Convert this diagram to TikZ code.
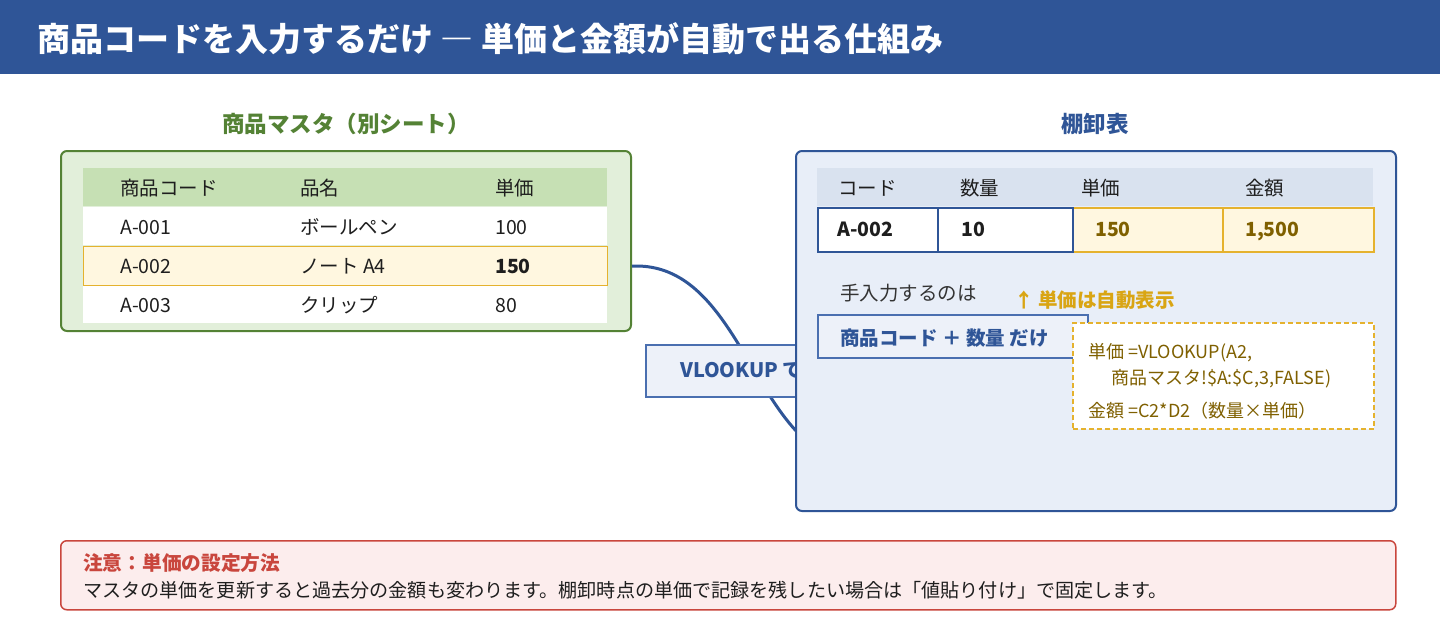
\documentclass[tikz,border=0pt]{standalone}
\usepackage{fontspec}
\setmainfont{Noto Sans CJK JP}
\usetikzlibrary{calc}
\definecolor{hdrblue}{HTML}{2F5597}
\definecolor{midblue}{HTML}{4A6FB0}
\definecolor{rpanelbg}{HTML}{E8EEF8}
\definecolor{rheadbg}{HTML}{D9E2EF}
\definecolor{lblue2}{HTML}{EDF1F9}
\definecolor{mgreen}{HTML}{548235}
\definecolor{lgreenbg}{HTML}{E2EFDA}
\definecolor{hdrgreen}{HTML}{C6E0B4}
\definecolor{gold}{HTML}{E5B22E}
\definecolor{lyellow}{HTML}{FFF7E0}
\definecolor{dgold}{HTML}{7F6000}
\definecolor{agold}{HTML}{D9A514}
\definecolor{txtdark}{HTML}{1E1E1E}
\definecolor{txtgray}{HTML}{333333}
\definecolor{notebg}{HTML}{FCEDED}
\definecolor{notered}{HTML}{C9463D}
\newcommand\myfs[1]{\fontsize{#1}{#1}\selectfont}
\begin{document}
\begin{tikzpicture}[x=1pt,y=-1pt,
  box/.style={rectangle, inner sep=0pt, anchor=north west},
  lbl/.style={anchor=west, inner sep=0pt, text height=#1, text depth=0pt},
  txt/.style={lbl=14.4pt, font=\myfs{19.5}, text=txtdark},
  btxt/.style={lbl=14.4pt, font=\bfseries\myfs{19.5}, text=txtdark},
  ftxt/.style={lbl=13.3pt, font=\myfs{18}, text=dgold},
]
\useasboundingbox (0,0) rectangle (1440,630);
\fill[white] (0,0) rectangle (1440,630);
% header
\fill[hdrblue] (0,0) rectangle (1440,74);
\node[lbl=24.4pt, text=white, font=\bfseries\myfs{33}] (title) at (37,39) {商品コードを入力するだけ ― 単価と金額が自動で出る仕組み};

% left side
\node[inner sep=0pt, font=\bfseries\myfs{22.5}, text=mgreen] (ltitle) at (346,124) {商品マスタ（別シート）};
\node[box, draw=mgreen, fill=lgreenbg, line width=2pt, rounded corners=6pt, minimum width=570pt, minimum height=180pt] (lpanel) at (60,150) {};
\node[box, fill=hdrgreen, minimum width=524pt, minimum height=38pt] (lhead) at (83,168) {};
\node[box, fill=white, minimum width=524pt, minimum height=38pt] (m1) at (83,207) {};
\node[box, draw=gold, fill=lyellow, line width=1.2pt, minimum width=524pt, minimum height=39pt] (m2) at (83,246) {};
\node[box, fill=white, minimum width=524pt, minimum height=37pt] (m3) at (83,286) {};

\node[txt] (lh1) at (120,188) {商品コード};
\node[txt] (lh2) at (300,188) {品名};
\node[txt] (lh3) at (495,188) {単価};
\node[txt] (l11) at (120,227) {A-001};
\node[txt] (l12) at (300,227) {ボールペン};
\node[txt] (l13) at (495,227) {100};
\node[txt] (l21) at (120,266) {A-002};
\node[txt] (l22) at (300,266) {ノート A4};
\node[btxt] (l23) at (495,266) {150};
\node[txt] (l31) at (120,305) {A-003};
\node[txt] (l32) at (300,305) {クリップ};
\node[txt] (l33) at (495,305) {80};

% connector
\coordinate (cend) at (800,435);
\draw[hdrblue, line width=3pt] (lpanel.east |- m2.east) .. controls (720,262) and (745,380) .. (cend);
\node[box, draw=midblue, fill=lblue2, line width=1.5pt, minimum width=160pt, minimum height=52pt] (vl) at (645,344) {};
\node[lbl=14.8pt, text=hdrblue, font=\bfseries\myfs{20}] (vltext) at (680,370) {VLOOKUP で};

% right side
\node[inner sep=0pt, font=\bfseries\myfs{22.5}, text=hdrblue] (rtitle) at (1095,124) {棚卸表};
\node[box, draw=hdrblue, fill=rpanelbg, line width=2pt, rounded corners=6pt, minimum width=600pt, minimum height=360pt] (rpanel) at (795,150) {};
\node[box, fill=rheadbg, minimum width=556pt, minimum height=38pt] (rhead) at (817,168) {};
\node[box, draw=gold, fill=lyellow, line width=1.5pt, minimum width=150pt, minimum height=44pt] (c3) at (1072,207) {};
\node[box, draw=gold, fill=lyellow, line width=1.5pt, minimum width=151pt, minimum height=44pt] (c4) at (1222,207) {};
\node[box, draw=hdrblue, fill=white, line width=2pt, minimum width=120pt, minimum height=44pt] (c1) at (817,207) {};
\node[box, draw=hdrblue, fill=white, line width=2pt, minimum width=135pt, minimum height=44pt] (c2) at (937,207) {};

\node[txt] (rh1) at (838,188) {コード};
\node[txt] (rh2) at (960,188) {数量};
\node[txt] (rh3) at (1081,188) {単価};
\node[txt] (rh4) at (1245,188) {金額};
\node[btxt] (r1) at (837,229) {A-002};
\node[btxt] (r2) at (961,229) {10};
\node[btxt, text=dgold] (r3) at (1095,229) {150};
\node[btxt, text=dgold] (r4) at (1245,229) {1,500};

\node[txt, text=txtgray] (manual) at (840,293) {手入力するのは};
\node[btxt, text=agold] (auto) at (1014,300) {↑ 単価は自動表示};
\node[box, draw=midblue, fill=lblue2, line width=1.5pt, minimum width=270pt, minimum height=43pt] (inbox) at (817,314) {};
\node[btxt, text=hdrblue] (intext) at (840,338) {商品コード ＋ 数量 だけ};
\node[box, draw=gold, fill=white, line width=1.5pt, dash pattern=on 5pt off 3pt, minimum width=301pt, minimum height=106pt] (fbox) at (1072,322) {};
\node[ftxt] (f1) at (1088,352) {単価 =VLOOKUP(A2,};
\node[ftxt] (f2) at (1111,378) {商品マスタ!\$A:\$C,3,FALSE)};
\node[ftxt] (f3) at (1088,411) {金額 =C2*D2（数量×単価）};

% note
\node[box, draw=notered, fill=notebg, line width=1.5pt, rounded corners=6pt, minimum width=1335pt, minimum height=69pt] (note) at (60,540) {};
\node[lbl=14.6pt, text=notered, font=\bfseries\myfs{19.7}] (ntitle) at (83,563) {注意：単価の設定方法};
\node[lbl=14.1pt, text=txtdark, font=\myfs{19.1}] (nbody) at (83,590) {マスタの単価を更新すると過去分の金額も変わります。棚卸時点の単価で記録を残したい場合は「値貼り付け」で固定します。};
\end{tikzpicture}
\end{document}
